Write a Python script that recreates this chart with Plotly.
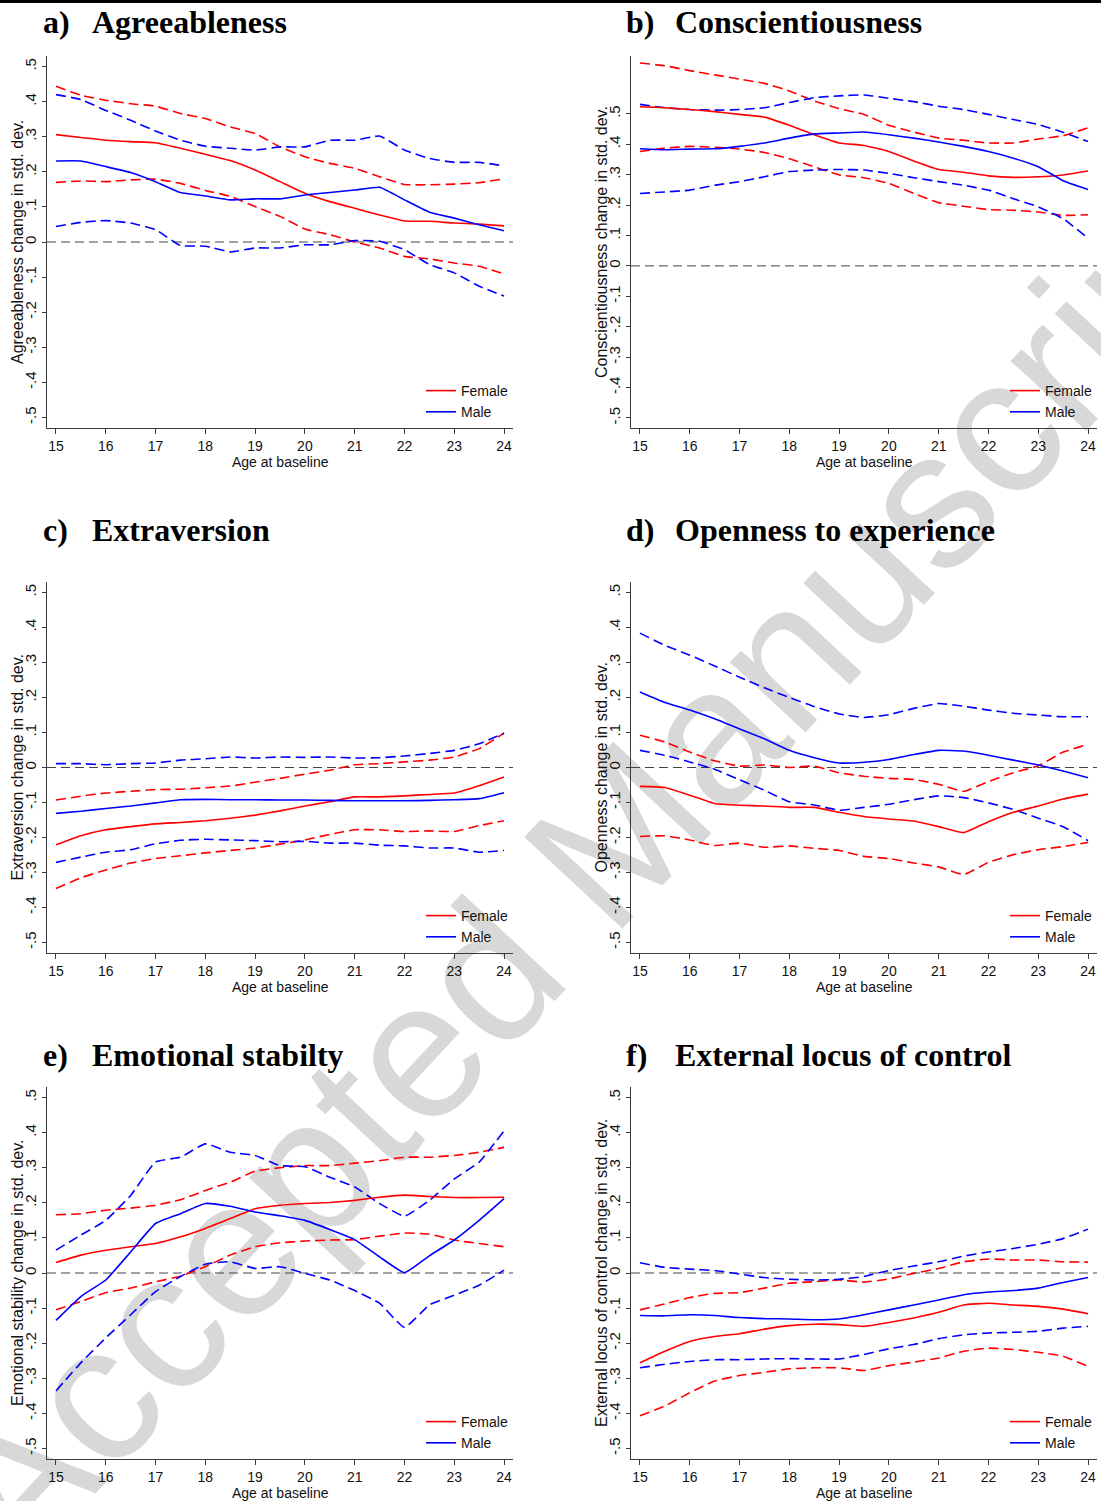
import math
import plotly.graph_objects as go

# ---------------- data ----------------
ages = [15, 15.5, 16, 16.5, 17, 17.5, 18, 18.5, 19, 19.5, 20, 20.5, 21, 21.5, 22, 22.5, 23, 23.5, 24]
x_ticks = [15, 16, 17, 18, 19, 20, 21, 22, 23, 24]
y_tickvals = [-0.5, -0.4, -0.3, -0.2, -0.1, 0, 0.1, 0.2, 0.3, 0.4, 0.5]
y_ticktext = ["-.5", "-.4", "-.3", "-.2", "-.1", "0", ".1", ".2", ".3", ".4", ".5"]

# a) Agreeableness
agr_f    = [0.306, 0.298, 0.290, 0.286, 0.283, 0.267, 0.250, 0.232, 0.205, 0.172, 0.139, 0.115, 0.096, 0.077, 0.060, 0.059, 0.054, 0.051, 0.046]
agr_f_hi = [0.444, 0.418, 0.404, 0.394, 0.387, 0.366, 0.352, 0.328, 0.309, 0.271, 0.243, 0.224, 0.210, 0.186, 0.164, 0.163, 0.165, 0.169, 0.180]
agr_f_lo = [0.170, 0.174, 0.172, 0.177, 0.179, 0.167, 0.147, 0.130, 0.101, 0.073, 0.037, 0.021, 0.000, -0.017, -0.041, -0.048, -0.060, -0.069, -0.091]
agr_m    = [0.231, 0.231, 0.215, 0.198, 0.172, 0.141, 0.131, 0.120, 0.123, 0.123, 0.134, 0.141, 0.148, 0.156, 0.120, 0.085, 0.068, 0.049, 0.032]
agr_m_hi = [0.420, 0.406, 0.375, 0.347, 0.316, 0.290, 0.273, 0.267, 0.262, 0.271, 0.271, 0.290, 0.290, 0.302, 0.262, 0.238, 0.227, 0.227, 0.217]
agr_m_lo = [0.044, 0.056, 0.061, 0.054, 0.035, -0.010, -0.012, -0.028, -0.017, -0.017, -0.008, -0.008, 0.004, 0.002, -0.022, -0.064, -0.088, -0.126, -0.154]

# b) Conscientiousness
con_f    = [0.523, 0.520, 0.514, 0.507, 0.498, 0.489, 0.462, 0.431, 0.404, 0.396, 0.376, 0.345, 0.317, 0.308, 0.296, 0.291, 0.293, 0.299, 0.312]
con_f_hi = [0.667, 0.658, 0.642, 0.628, 0.614, 0.600, 0.575, 0.542, 0.517, 0.498, 0.462, 0.440, 0.420, 0.413, 0.404, 0.404, 0.417, 0.428, 0.454]
con_f_lo = [0.376, 0.387, 0.393, 0.390, 0.384, 0.373, 0.352, 0.326, 0.299, 0.290, 0.271, 0.238, 0.208, 0.196, 0.185, 0.183, 0.177, 0.166, 0.168]
con_m    = [0.385, 0.382, 0.384, 0.385, 0.393, 0.404, 0.420, 0.434, 0.437, 0.440, 0.431, 0.420, 0.407, 0.393, 0.376, 0.354, 0.326, 0.280, 0.251]
con_m_hi = [0.531, 0.520, 0.514, 0.512, 0.514, 0.520, 0.537, 0.553, 0.559, 0.562, 0.551, 0.540, 0.525, 0.514, 0.498, 0.481, 0.465, 0.439, 0.409]
con_m_lo = [0.238, 0.243, 0.249, 0.265, 0.277, 0.293, 0.310, 0.315, 0.317, 0.315, 0.304, 0.290, 0.277, 0.265, 0.249, 0.221, 0.194, 0.155, 0.091]

# c) Extraversion
ext_f    = [-0.221, -0.195, -0.178, -0.169, -0.161, -0.157, -0.152, -0.145, -0.136, -0.124, -0.110, -0.098, -0.084, -0.084, -0.081, -0.077, -0.073, -0.052, -0.027]
ext_f_hi = [-0.093, -0.082, -0.073, -0.068, -0.063, -0.062, -0.058, -0.053, -0.042, -0.031, -0.019, -0.008, 0.008, 0.011, 0.016, 0.021, 0.030, 0.054, 0.098]
ext_f_lo = [-0.346, -0.315, -0.293, -0.273, -0.260, -0.252, -0.244, -0.237, -0.230, -0.219, -0.207, -0.191, -0.178, -0.178, -0.183, -0.181, -0.183, -0.166, -0.152]
ext_m    = [-0.131, -0.125, -0.117, -0.110, -0.101, -0.092, -0.091, -0.092, -0.092, -0.093, -0.093, -0.094, -0.095, -0.095, -0.095, -0.094, -0.092, -0.089, -0.072]
ext_m_hi = [0.011, 0.011, 0.008, 0.011, 0.013, 0.021, 0.025, 0.030, 0.027, 0.030, 0.029, 0.030, 0.027, 0.028, 0.033, 0.040, 0.049, 0.068, 0.098]
ext_m_lo = [-0.271, -0.256, -0.242, -0.235, -0.218, -0.208, -0.205, -0.207, -0.209, -0.212, -0.211, -0.216, -0.216, -0.222, -0.224, -0.230, -0.230, -0.242, -0.237]

# d) Openness to experience
opn_f    = [-0.054, -0.057, -0.079, -0.103, -0.108, -0.110, -0.114, -0.114, -0.128, -0.140, -0.147, -0.153, -0.169, -0.186, -0.155, -0.128, -0.110, -0.090, -0.076]
opn_f_hi = [0.092, 0.073, 0.044, 0.019, 0.004, 0.007, 0.000, 0.004, -0.015, -0.025, -0.031, -0.034, -0.048, -0.068, -0.040, -0.015, 0.005, 0.044, 0.066]
opn_f_lo = [-0.197, -0.195, -0.207, -0.223, -0.216, -0.228, -0.224, -0.231, -0.237, -0.254, -0.260, -0.273, -0.284, -0.306, -0.271, -0.249, -0.235, -0.226, -0.214]
opn_m    = [0.216, 0.186, 0.164, 0.139, 0.110, 0.082, 0.049, 0.028, 0.013, 0.015, 0.023, 0.037, 0.049, 0.047, 0.035, 0.021, 0.007, -0.010, -0.029]
opn_m_hi = [0.384, 0.349, 0.321, 0.290, 0.258, 0.228, 0.200, 0.174, 0.153, 0.143, 0.151, 0.169, 0.183, 0.175, 0.164, 0.155, 0.150, 0.145, 0.145]
opn_m_lo = [0.049, 0.035, 0.016, -0.005, -0.035, -0.065, -0.098, -0.107, -0.122, -0.114, -0.105, -0.092, -0.081, -0.086, -0.101, -0.120, -0.145, -0.169, -0.209]

# e) Emotional stabilty
emo_f    = [0.030, 0.051, 0.065, 0.075, 0.084, 0.103, 0.127, 0.155, 0.183, 0.193, 0.198, 0.201, 0.207, 0.216, 0.222, 0.218, 0.215, 0.215, 0.216]
emo_f_hi = [0.166, 0.169, 0.179, 0.185, 0.193, 0.209, 0.235, 0.259, 0.290, 0.300, 0.306, 0.306, 0.313, 0.320, 0.330, 0.330, 0.335, 0.344, 0.358]
emo_f_lo = [-0.105, -0.081, -0.056, -0.043, -0.025, -0.009, 0.018, 0.051, 0.075, 0.086, 0.091, 0.094, 0.095, 0.105, 0.114, 0.111, 0.094, 0.084, 0.075]
emo_m    = [-0.135, -0.067, -0.020, 0.060, 0.141, 0.169, 0.198, 0.190, 0.174, 0.163, 0.150, 0.124, 0.095, 0.046, 0.001, 0.049, 0.094, 0.150, 0.212]
emo_m_hi = [0.065, 0.108, 0.150, 0.221, 0.316, 0.330, 0.368, 0.344, 0.335, 0.306, 0.303, 0.273, 0.245, 0.198, 0.162, 0.207, 0.268, 0.316, 0.405]
emo_m_lo = [-0.336, -0.256, -0.185, -0.119, -0.053, -0.010, 0.025, 0.032, 0.013, 0.018, -0.001, -0.020, -0.050, -0.086, -0.155, -0.091, -0.063, -0.035, 0.008]

# f) External locus of control
loc_f    = [-0.256, -0.223, -0.195, -0.181, -0.173, -0.160, -0.150, -0.146, -0.147, -0.152, -0.141, -0.128, -0.112, -0.091, -0.086, -0.091, -0.095, -0.103, -0.116]
loc_f_hi = [-0.105, -0.088, -0.070, -0.058, -0.056, -0.043, -0.029, -0.025, -0.020, -0.026, -0.017, -0.001, 0.013, 0.032, 0.040, 0.037, 0.037, 0.032, 0.031]
loc_f_lo = [-0.407, -0.379, -0.341, -0.308, -0.292, -0.283, -0.273, -0.270, -0.270, -0.278, -0.264, -0.254, -0.242, -0.223, -0.214, -0.218, -0.226, -0.237, -0.266]
loc_m    = [-0.121, -0.122, -0.119, -0.121, -0.127, -0.130, -0.131, -0.133, -0.131, -0.119, -0.105, -0.091, -0.077, -0.062, -0.054, -0.050, -0.043, -0.027, -0.013]
loc_m_hi = [0.029, 0.016, 0.011, 0.007, -0.003, -0.013, -0.018, -0.020, -0.018, -0.010, 0.007, 0.020, 0.032, 0.048, 0.060, 0.070, 0.082, 0.098, 0.125]
loc_m_lo = [-0.270, -0.260, -0.252, -0.247, -0.247, -0.245, -0.244, -0.245, -0.245, -0.232, -0.216, -0.204, -0.187, -0.176, -0.171, -0.169, -0.166, -0.157, -0.152]

letters = ["a)", "b)", "c)", "d)", "e)", "f)"]
names = ["Agreeableness", "Conscientiousness", "Extraversion", "Openness to experience",
         "Emotional stabilty", "External locus of control"]
ytitles = ["Agreeableness change in std. dev.", "Conscientiousness change in std. dev.",
           "Extraversion change in std. dev.", "Openness change in std. dev.",
           "Emotional stability change in std. dev.", "External locus of control change in std. dev."]
series = [
    (agr_f, agr_f_lo, agr_f_hi, agr_m, agr_m_lo, agr_m_hi),
    (con_f, con_f_lo, con_f_hi, con_m, con_m_lo, con_m_hi),
    (ext_f, ext_f_lo, ext_f_hi, ext_m, ext_m_lo, ext_m_hi),
    (opn_f, opn_f_lo, opn_f_hi, opn_m, opn_m_lo, opn_m_hi),
    (emo_f, emo_f_lo, emo_f_hi, emo_m, emo_m_lo, emo_m_hi),
    (loc_f, loc_f_lo, loc_f_hi, loc_m, loc_m_lo, loc_m_hi),
]

# ---------------- layout geometry (pixels) ----------------
W, H = 1101, 1501
boxes = [(47, 513, 56, 428), (631, 1097, 56, 428),
         (47, 513, 582, 953), (631, 1097, 582, 953),
         (47, 513, 1087, 1459), (631, 1097, 1087, 1459)]
yranges = [[-0.53, 0.53], [-0.533, 0.69], [-0.53, 0.53], [-0.53, 0.53], [-0.53, 0.53], [-0.53, 0.53]]
title_y = [22, 22, 530, 530, 1055, 1055]
xrange_ = [14.82, 24.18]

RED, BLUE = "#ff0000", "#0000ff"
AX = "#3c3c3c"
SANS = "Liberation Sans, Arial, sans-serif"
SERIF = "Liberation Serif, Times New Roman, serif"
DASH = "10px,5px"
LW = 1.6


def px(x):
    return x / W


def py(y):
    return 1 - y / H


fig = go.Figure()
layout = dict(width=W, height=H, margin=dict(l=0, r=0, t=0, b=0),
              paper_bgcolor="white", plot_bgcolor="rgba(0,0,0,0)",
              template="none", showlegend=True)
annotations = []
shapes = []

# watermark (drawn beneath the data)
cx, cy, ang = 578, 850, 47.0
dx, dy = math.cos(math.radians(ang)), -math.sin(math.radians(ang))
shapes.append(dict(type="line", xref="paper", yref="paper", layer="below",
                   x0=px(cx - 300 * dx), y0=py(cy - 300 * dy),
                   x1=px(cx + 300 * dx), y1=py(cy + 300 * dy),
                   line=dict(width=0, color="rgba(0,0,0,0)"),
                   label=dict(text="Accepted Manuscript", textposition="middle",
                              yanchor="middle", padding=0,
                              font=dict(family=SANS, size=195, color="#d8d8d8"))))

# top rule
shapes.append(dict(type="line", xref="paper", yref="paper", x0=0, x1=1,
                   y0=py(1.5), y1=py(1.5), line=dict(color="black", width=3)))

for i in range(6):
    k = "" if i == 0 else str(i + 1)
    xa, ya = "x" + k, "y" + k
    l, r, t, b = boxes[i]
    f, f_lo, f_hi, m, m_lo, m_hi = series[i]
    leg = "legend" + k
    for vals in (f_hi, f_lo):
        fig.add_trace(go.Scatter(x=ages, y=vals, mode="lines", xaxis=xa, yaxis=ya,
                                 line=dict(color=RED, width=LW, dash=DASH, shape="spline", smoothing=0.4),
                                 showlegend=False, hoverinfo="skip"))
    for vals in (m_hi, m_lo):
        fig.add_trace(go.Scatter(x=ages, y=vals, mode="lines", xaxis=xa, yaxis=ya,
                                 line=dict(color=BLUE, width=LW, dash=DASH, shape="spline", smoothing=0.4),
                                 showlegend=False, hoverinfo="skip"))
    fig.add_trace(go.Scatter(x=ages, y=f, mode="lines", name="Female", xaxis=xa, yaxis=ya,
                             line=dict(color=RED, width=LW, shape="spline", smoothing=0.4),
                             legend=leg, showlegend=True))
    fig.add_trace(go.Scatter(x=ages, y=m, mode="lines", name="Male", xaxis=xa, yaxis=ya,
                             line=dict(color=BLUE, width=LW, shape="spline", smoothing=0.4),
                             legend=leg, showlegend=True))

    layout["xaxis" + k] = dict(domain=[px(l), px(r)], range=xrange_, anchor=ya,
                               showline=True, linecolor=AX, linewidth=1.3, mirror=False,
                               ticks="outside", ticklen=5, tickwidth=1.2, tickcolor=AX,
                               tickvals=x_ticks, tickfont=dict(family=SANS, size=14, color="#111"),
                               showgrid=False, zeroline=False, fixedrange=True)
    layout["yaxis" + k] = dict(domain=[py(b), py(t)], range=yranges[i], anchor=xa,
                               showline=True, linecolor=AX, linewidth=1.3,
                               ticks="outside", ticklen=4, tickwidth=1.2, tickcolor=AX,
                               tickvals=y_tickvals, ticktext=y_ticktext, tickangle=-90,
                               tickfont=dict(family=SANS, size=15, color="#111"),
                               showgrid=False, zeroline=False, fixedrange=True)
    layout[leg] = dict(x=px(r - 92), y=py(b - 53), xanchor="left", yanchor="top",
                       bgcolor="rgba(0,0,0,0)", borderwidth=0,
                       font=dict(family=SANS, size=14, color="#111"))

    # zero reference line
    shapes.append(dict(type="line", xref=xa + " domain", yref=ya, x0=0, x1=1, y0=0, y1=0,
                       layer="below", line=dict(color="#444", width=1, dash="9px,5px")))

    # panel titles
    tx = 41 if i % 2 == 0 else 624
    annotations.append(dict(xref="paper", yref="paper", x=px(tx), y=py(title_y[i]),
                            xanchor="left", yanchor="middle", showarrow=False,
                            text="<b>%s</b>" % letters[i],
                            font=dict(family=SERIF, size=32, color="black")))
    annotations.append(dict(xref="paper", yref="paper", x=px(tx + 49), y=py(title_y[i]),
                            xanchor="left", yanchor="middle", showarrow=False,
                            text="<b>%s</b>" % names[i],
                            font=dict(family=SERIF, size=32, color="black")))
    # axis titles
    annotations.append(dict(xref="paper", yref="paper", x=px(l - 30), y=py((t + b) / 2),
                            xanchor="center", yanchor="middle", showarrow=False,
                            text=ytitles[i], textangle=-90,
                            font=dict(family=SANS, size=16, color="#111")))
    annotations.append(dict(xref="paper", yref="paper", x=px((l + r) / 2), y=py(b + 34),
                            xanchor="center", yanchor="middle", showarrow=False,
                            text="Age at baseline",
                            font=dict(family=SANS, size=14, color="#111")))

layout["annotations"] = annotations
layout["shapes"] = shapes
fig.update_layout(**layout)
fig.write_html("out.html", config={"displayModeBar": False},
               post_script="document.body.style.margin='0px';")
